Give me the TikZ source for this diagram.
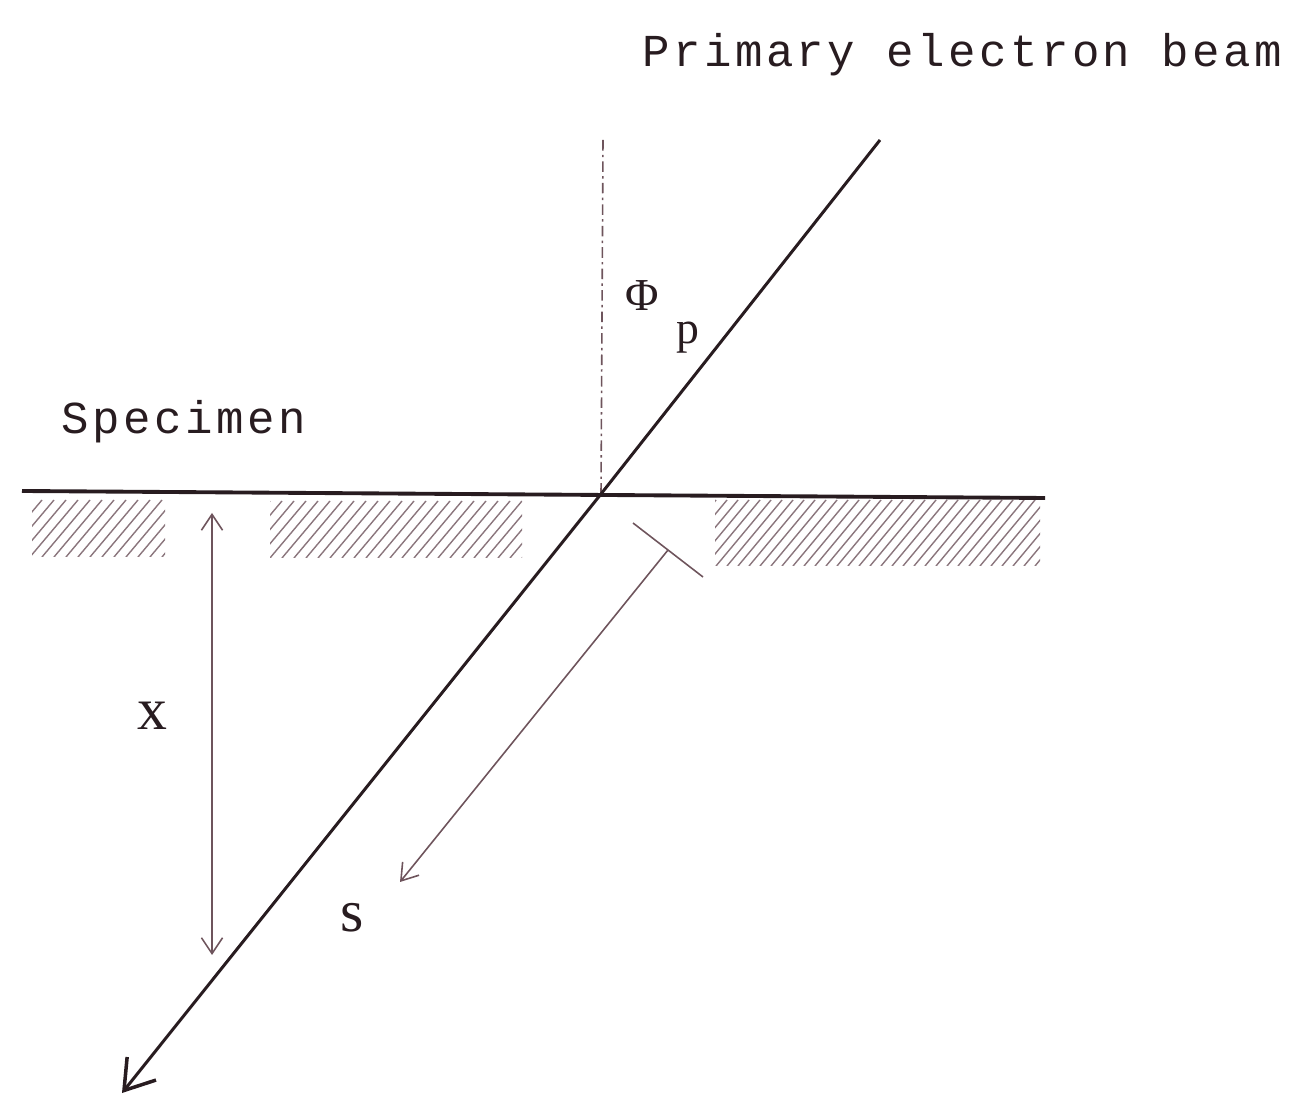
\documentclass[tikz,border=0pt]{standalone}
\usepackage{fontspec}
\setmainfont{Liberation Serif}
\newfontfamily\printfont[LetterSpace=7.7]{Liberation Mono}
\usetikzlibrary{arrows.meta}
\definecolor{ink}{RGB}{40,28,32}
\definecolor{thinink}{RGB}{110,84,92}

\begin{document}
\begin{tikzpicture}[x=0.01cm, y=-0.01cm,
    every node/.style={text=ink, inner sep=0pt},
    beam/.style={draw=ink, line width=0.85pt},
    surface/.style={draw=ink, line width=1.1pt},
    dimline/.style={draw=thinink, line width=0.45pt},
    hatchline/.style={draw=thinink!80, line width=0.4pt},
    printlabel/.style={font=\printfont\fontsize{13}{15}\selectfont},
    symlabel/.style={font=\fontsize{17}{18}\selectfont}]
    \useasboundingbox (0,0) rectangle (1309,1098);

    % Key points of the beam geometry
    \coordinate (O) at (601,494);
    \coordinate (Btop) at (880,140);
    \coordinate (Bend) at (122,1093);
    \coordinate (Ntop) at (603,140);
    \coordinate (Sleft) at (22,491);
    \coordinate (Sright) at (1045,498);

    % Hatched specimen blocks
    \begin{scope}
        \clip (32,500) rectangle (165,557);
        \foreach \h in {-30,-18,...,165} {
            \draw[hatchline] (\h,557) -- ++(48,-57);
        }
    \end{scope}
    \begin{scope}
        \clip (270,500) rectangle (522,558);
        \foreach \h in {210,222,...,522} {
            \draw[hatchline] (\h,558) -- ++(48,-57);
        }
    \end{scope}
    \begin{scope}
        \clip (715,500) rectangle (1040,566);
        \foreach \h in {650,661,...,1040} {
            \draw[hatchline] (\h,566) -- ++(55,-66);
        }
    \end{scope}

    % Specimen surface and surface normal
    \draw[surface] (Sleft) -- (Sright);
    \draw[dimline, dash pattern=on 3pt off 1.2pt on 0.7pt off 1.2pt] (Ntop) -- (O);

    % Primary beam
    \draw[beam, -{Straight Barb[length=8pt, width=10.5pt, line width=1pt]}] (Btop) -- (O) -- (Bend);

    % Depth x
    \coordinate (Xtop) at (212,513);
    \coordinate (Xbot) at (212,955);
    \draw[dimline, {Straight Barb[length=4.5pt, width=6pt]}-{Straight Barb[length=4.5pt, width=6pt]}] (Xtop) -- (Xbot);

    % Path length s
    \coordinate (Tc) at (668,550);
    \coordinate (Ta) at (633,523);
    \coordinate (Tb) at (703,577);
    \coordinate (Stip) at (400,882);
    \draw[dimline] (Ta) -- (Tb);
    \draw[dimline, -{Straight Barb[length=4.5pt, width=6pt]}] (Tc) -- (Stip);

    % Labels
    \node[printlabel] (beamlbl) at (962,55) {Primary electron beam};
    \node[printlabel] (speclbl) at (184,422) {Specimen};
    \node[symlabel] (xlbl) at (152,716) {x};
    \node[symlabel] (slbl) at (352,918) {s};
    \node[font=\fontsize{13}{15}\selectfont] (philbl) at (642,296) {Φ};
    \node[font=\fontsize{13}{15}\selectfont] (plbl) at (688,338) {p};
\end{tikzpicture}
\end{document}
